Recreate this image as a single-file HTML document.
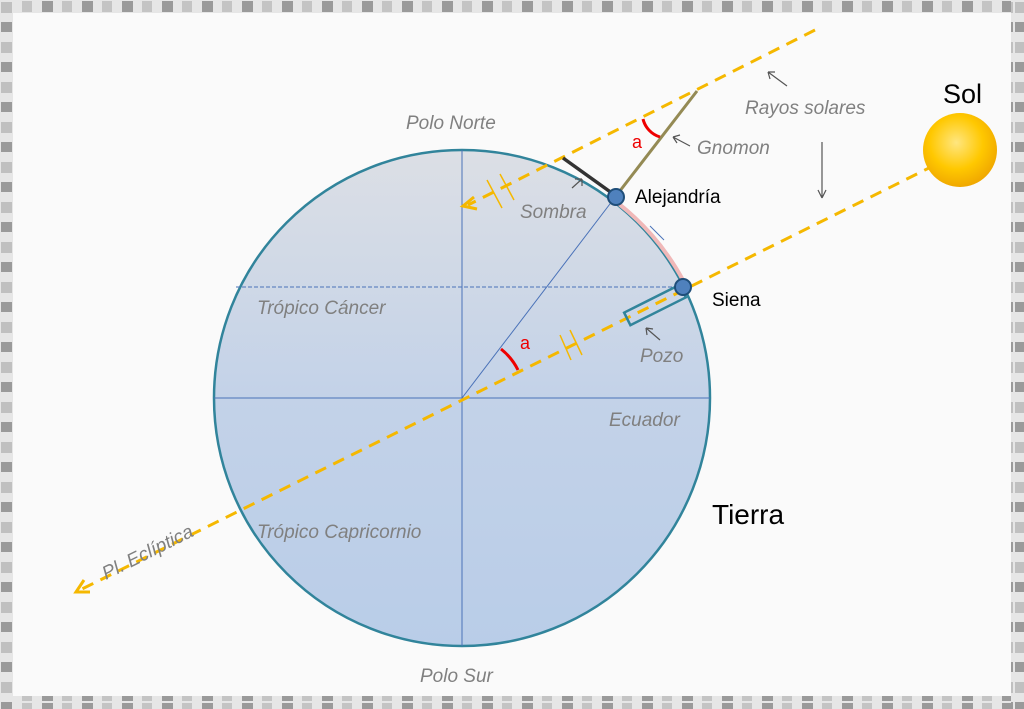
<!DOCTYPE html>
<html><head><meta charset="utf-8"><style>
body{margin:0;width:1024px;height:709px;overflow:hidden;background:#fff}
svg{display:block}
</style></head><body>
<svg width="1024" height="709" viewBox="0 0 1024 709" xmlns="http://www.w3.org/2000/svg" font-family="Liberation Sans, sans-serif">
<defs>
<linearGradient id="g" x1="0" y1="0" x2="0" y2="1">
<stop offset="0" stop-color="#dcdfe5"/><stop offset="0.5" stop-color="#c3d2e8"/><stop offset="1" stop-color="#b9cde8"/>
</linearGradient>
<radialGradient id="sun" cx="0.45" cy="0.4" r="0.6">
<stop offset="0" stop-color="#ffe680"/><stop offset="0.6" stop-color="#ffc800"/><stop offset="1" stop-color="#f0a800"/>
</radialGradient>
<pattern id="fr" width="40" height="13" patternUnits="userSpaceOnUse">
<rect width="40" height="13" fill="#e6e6e6"/><rect x="2" y="1" width="11" height="11" fill="#9a9a9a"/><rect x="22" y="1" width="10" height="11" fill="#c4c4c4"/>
</pattern>
<pattern id="frv" width="13" height="40" patternUnits="userSpaceOnUse">
<rect width="13" height="40" fill="#e6e6e6"/><rect x="1" y="2" width="11" height="11" fill="#c0c0c0"/><rect x="1" y="22" width="11" height="10" fill="#9a9a9a"/>
</pattern>
</defs>
<rect width="1024" height="709" fill="#fafafa"/>
<rect x="0" y="0" width="1024" height="13" fill="url(#fr)"/>
<rect x="0" y="696" width="1024" height="13" fill="url(#fr)"/>
<rect x="0" y="0" width="13" height="709" fill="url(#frv)"/>
<rect x="1011" y="0" width="13" height="709" fill="url(#frv)"/>

<circle cx="462" cy="398" r="248" fill="url(#g)" stroke="#31849b" stroke-width="2.5"/>
<line x1="462" y1="150" x2="462" y2="646" stroke="#4a72b8" stroke-width="1"/>
<line x1="214" y1="398" x2="710" y2="398" stroke="#4a72b8" stroke-width="1"/>
<line x1="236" y1="287" x2="683" y2="287" stroke="#4a72b8" stroke-width="1" stroke-dasharray="4,2"/>
<line x1="462" y1="398" x2="616" y2="196" stroke="#4a72b8" stroke-width="1"/>
<line x1="650" y1="226" x2="664" y2="240" stroke="#4a72b8" stroke-width="1"/>
<path d="M619,204 A248,248 0 0 1 684,282" fill="none" stroke="#f0b8b8" stroke-width="4"/>

<line x1="815" y1="30" x2="468" y2="205" stroke="#f5b800" stroke-width="3" stroke-dasharray="12,8"/>
<path d="M474,197 L463,206 L477,209" fill="none" stroke="#f5b800" stroke-width="3"/>
<line x1="935" y1="165" x2="80" y2="590" stroke="#f5b800" stroke-width="3" stroke-dasharray="12,8"/>
<path d="M84,580 L76,592 L90,592" fill="none" stroke="#f5b800" stroke-width="3"/>
<g stroke="#f5b800" stroke-width="1.5">
<line x1="487" y1="180" x2="502" y2="208"/><line x1="500" y1="174" x2="514" y2="200"/>
<line x1="560" y1="335" x2="571" y2="360"/><line x1="570" y1="330" x2="582" y2="355"/>
</g>
<rect x="-31" y="-7" width="62" height="14" fill="none" stroke="#31849b" stroke-width="2.5" transform="translate(655,305) rotate(-26.6)"/>
<line x1="616" y1="196" x2="697" y2="91" stroke="#948a54" stroke-width="3"/>
<line x1="563" y1="158" x2="616" y2="196" stroke="#333" stroke-width="3.5"/>
<circle cx="616" cy="197" r="8" fill="#4f81bd" stroke="#1f4e79" stroke-width="2"/>
<circle cx="683" cy="287" r="8" fill="#4f81bd" stroke="#1f4e79" stroke-width="2"/>
<path d="M501,349 A62,62 0 0 1 518,370" fill="none" stroke="#e00" stroke-width="3"/>
<path d="M643,119 A25,25 0 0 0 660,137" fill="none" stroke="#e00" stroke-width="3"/>
<text x="632" y="148" fill="#e00" font-size="18">a</text>
<text x="520" y="349" fill="#e00" font-size="18">a</text>
<g stroke="#555" stroke-width="1.2" fill="none">
<path d="M787,86 L768,72 M768,72 L775,72 M768,72 L770,79"/>
<path d="M690,146 L673,137 M673,137 L680,135 M673,137 L677,143"/>
<path d="M572,188 L582,179 M582,179 L575,179 M582,179 L582,186"/>
<path d="M822,142 L822,198 M822,198 L818,190 M822,198 L826,190"/>
<path d="M660,340 L646,328 M646,328 L653,329 M646,328 L647,335"/>
</g>
<circle cx="960" cy="150" r="37" fill="url(#sun)"/>
<g fill="#808080" font-style="italic" font-size="19">
<text x="406" y="129">Polo Norte</text>
<text x="520" y="218">Sombra</text>
<text x="697" y="154">Gnomon</text>
<text x="745" y="114">Rayos solares</text>
<text x="257" y="314">Trópico Cáncer</text>
<text x="640" y="362">Pozo</text>
<text x="609" y="426">Ecuador</text>
<text x="257" y="538">Trópico Capricornio</text>
<text x="420" y="682">Polo Sur</text>
<text x="0" y="0" transform="translate(106,580) rotate(-26.6)">Pl. Eclíptica</text>
</g>
<g fill="#000">
<text x="635" y="203" font-size="19">Alejandría</text>
<text x="712" y="306" font-size="19">Siena</text>
<text x="712" y="524" font-size="28">Tierra</text>
<text x="943" y="103" font-size="27">Sol</text>
</g>
</svg>
</body></html>
